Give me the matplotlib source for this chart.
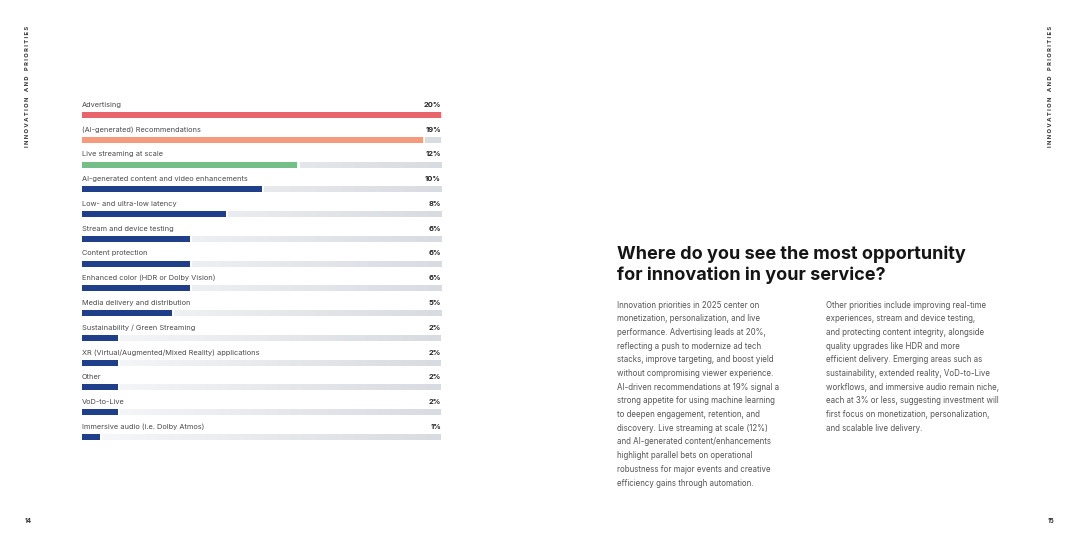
import numpy as np
import matplotlib.pyplot as plt
from matplotlib.colors import LinearSegmentedColormap

plt.rcParams['font.family'] = ['Inter', 'DejaVu Sans']

categories = [
    'Advertising',
    '(AI-generated) Recommendations',
    'Live streaming at scale',
    'AI-generated content and video enhancements',
    'Low- and ultra-low latency',
    'Stream and device testing',
    'Content protection',
    'Enhanced color (HDR or Dolby Vision)',
    'Media delivery and distribution',
    'Sustainability / Green Streaming',
    'XR (Virtual/Augmented/Mixed Reality) applications',
    'Other',
    'VoD-to-Live',
    'Immersive audio (i.e. Dolby Atmos)',
]
shares = [20, 19, 12, 10, 8, 6, 6, 6, 5, 2, 2, 2, 2, 1]
bar_colors = ['#e8646b', '#f59b7c', '#74be87'] + ['#1f3f8b'] * 11

title = 'Where do you see the most opportunity\nfor innovation in your service?'
col1 = [
    'Innovation priorities in 2025 center on',
    'monetization, personalization, and live',
    'performance. Advertising leads at 20%,',
    'reflecting a push to modernize ad tech',
    'stacks, improve targeting, and boost yield',
    'without compromising viewer experience.',
    'AI-driven recommendations at 19% signal a',
    'strong appetite for using machine learning',
    'to deepen engagement, retention, and',
    'discovery. Live streaming at scale (12%)',
    'and AI-generated content/enhancements',
    'highlight parallel bets on operational',
    'robustness for major events and creative',
    'efficiency gains through automation.',
]
col2 = [
    'Other priorities include improving real-time',
    'experiences, stream and device testing,',
    'and protecting content integrity, alongside',
    'quality upgrades like HDR and more',
    'efficient delivery. Emerging areas such as',
    'sustainability, extended reality, VoD-to-Live',
    'workflows, and immersive audio remain niche,',
    'each at 3% or less, suggesting investment will',
    'first focus on monetization, personalization,',
    'and scalable live delivery.',
]

W, H = 1080, 540
fig = plt.figure(figsize=(10.8, 5.4), dpi=100)
fig.patch.set_facecolor('white')

# chart axes, rows spaced ~24.8 px, first bar centre at y=115 px
row = 24.77
y_top = 115 - row * 1.0
y_bot = 115 + row * 13.5
ax = fig.add_axes([82 / W, 1 - y_bot / H, 359 / W, (y_bot - y_top) / H])
ax.set_xlim(0, 20)
ax.set_ylim(13.5, -1)
ax.axis('off')

track = LinearSegmentedColormap.from_list('track', ['#f7f8fa', '#d8dbe0'])
bh = 6 / row
for i, (cat, val, c) in enumerate(zip(categories, shares, bar_colors)):
    start = val + 0.12
    if start < 20:
        grad = np.linspace(start / 20, 1, 256).reshape(1, -1)
        ax.imshow(grad, cmap=track, vmin=0, vmax=1, aspect='auto',
                  extent=[start, 20, i + bh / 2, i - bh / 2], zorder=1)
    ax.barh(i, val, height=bh, color=c, zorder=2)
    ax.text(0, i - 0.41, cat, fontsize=5.3, color='#4a4a4a', va='center', ha='left')
    ax.text(20, i - 0.41, f'{val}%', fontsize=5.4, color='#222222', fontweight='bold',
            va='center', ha='right')
ax.set_xlim(0, 20)
ax.set_ylim(13.5, -1)

# right page text
fig.text(617 / W, 1 - 246 / H, title, fontsize=13, fontweight='bold', color='#151515',
         va='top', ha='left', linespacing=1.2)
for k, line in enumerate(col1):
    fig.text(617 / W, 1 - (305 + k * 13.7) / H, line, fontsize=5.7, color='#555555',
             va='center', ha='left')
for k, line in enumerate(col2):
    fig.text(826 / W, 1 - (305 + k * 13.7) / H, line, fontsize=5.7, color='#555555',
             va='center', ha='left')

side = ' '.join('INNOVATION AND PRIORITIES').replace('   ', '    ')
for x in (28, 1051):
    fig.text(x / W, 1 - 147 / H, side, rotation=90, fontsize=4.2, fontweight='bold',
             color='#333333', va='bottom', ha='center')
fig.text(28 / W, 1 - 521 / H, '14', fontsize=4.5, fontweight='bold', color='#333333',
         ha='center', va='center')
fig.text(1051 / W, 1 - 521 / H, '15', fontsize=4.5, fontweight='bold', color='#333333',
         ha='center', va='center')

fig.savefig('out.png', dpi=100, facecolor='white')
